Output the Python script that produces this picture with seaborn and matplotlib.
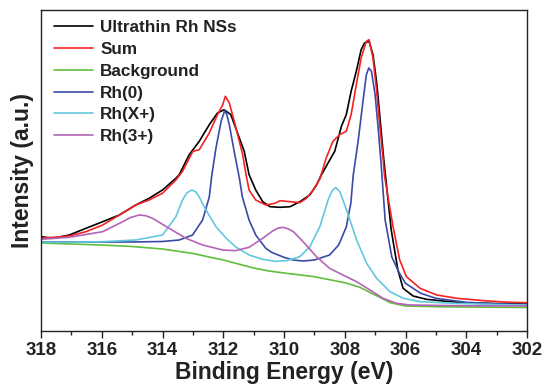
import matplotlib
matplotlib.use("Agg")
import matplotlib.pyplot as plt
import seaborn as sns
import pandas as pd

# ---- data (binding energy in eV, intensity in arbitrary units) ----
bg_x = [318, 317, 316, 315, 314, 313, 312, 311, 310.5, 310, 309, 308, 307.5, 307,
        306.5, 306, 305, 304, 302]
bg_y = [88, 87, 86, 84.5, 82, 77.5, 71, 63, 60, 58, 54.3, 48.3, 43.7, 36,
        28.3, 25, 24.3, 24, 23.5]

rh0_x = [318, 317, 316, 315, 314, 313.45, 313.01, 312.68, 312.46, 312.38, 312.24, 312.07,
         311.95, 311.88, 311.8, 311.64, 311.47, 311.37, 311.15, 310.93, 310.6, 310.4, 310,
         309.7, 309.37, 309, 308.5, 308.2, 307.95, 307.8, 307.72, 307.56, 307.4, 307.29,
         307.21, 307.12, 307.0, 306.9, 306.8, 306.67, 306.45, 306.2, 306, 305.5, 305, 304,
         303, 302]
rh0_y = [89, 89, 89, 89, 89.5, 91, 96, 111, 134, 155, 183, 209.7,
         220.7, 216, 206.3, 179.7, 153, 134, 111, 96, 82.7, 78.5, 73.7,
         71, 70, 71, 76, 86, 104, 127.7, 156, 189.7, 229.7, 256,
         263, 259.7, 236, 203, 166, 111, 74, 57.7, 47.7, 37.7, 32.7, 28.7,
         27, 26.5]

rhx_x = [318, 317, 316, 314.88, 314, 313.56, 313.34, 313.2, 313.04, 312.9, 312.79, 312.57,
         312.24, 311.9, 311.6, 311.15, 310.7, 310.3, 309.92, 309.48, 309.15, 308.82, 308.55,
         308.42, 308.3, 308.16, 307.94, 307.61, 307.28, 306.95, 306.51, 306.07, 305.52,
         304.42, 303, 302]
rhx_y = [88.7, 88.8, 89.3, 91, 96, 114.3, 131, 138, 141, 139, 134, 121,
         104.3, 92.7, 84.3, 76, 71.7, 69.7, 70.3, 74.3, 84.3, 104.3, 131,
         140, 143.5, 139.3, 121, 91, 67.7, 52.7, 39.3, 32.7, 29.3,
         27.7, 26.5, 26]

rh3_x = [318, 317.07, 315.97, 315.31, 315.05, 314.77, 314.55, 314.33, 313.78, 313.23,
         312.68, 312.02, 311.6, 311.15, 310.7, 310.35, 310.2, 310.04, 309.85, 309.69,
         309.37, 308.93, 308.5, 308.06, 307.61, 307.17, 306.74, 306.3, 305.86, 304, 302]
rh3_y = [91.7, 93.7, 99.3, 109.3, 113.5, 116, 115.3, 112.7, 102.7, 92.7,
         86, 81, 80.3, 83.7, 92.7, 100.5, 102.8, 103.7, 102, 99.3,
         89.3, 74.3, 62.7, 56, 49.3, 41, 32.7, 27.7, 26, 25.2, 25]

sum_x = [318, 317.07, 316.52, 315.97, 315.42, 314.88, 314.44, 314, 313.56, 313.34, 313.0,
         312.79, 312.46, 312.19, 312.02, 311.93, 311.8, 311.58, 311.36, 311.25, 311.15, 310.93,
         310.6, 310.3, 310.13, 309.8, 309.48, 309.26, 309.04, 308.82, 308.61, 308.39, 308.17,
         307.95, 307.79, 307.62, 307.46, 307.29, 307.2, 307.07, 306.96, 306.85, 306.74, 306.69,
         306.41, 306.19, 305.97, 305.52, 304.97, 304.31, 303.43, 302.57, 302]
sum_y = [92.7, 95, 99.3, 106, 116, 126, 131, 137.7, 151, 159.7, 179.7,
         181.3, 198, 216.3, 226, 234.7, 228, 203, 176.3, 156.3, 141, 131,
         126, 127.7, 130.3, 129.3, 128.3, 132.7, 141, 152, 173, 189.7, 196.3,
         199.7, 216.3, 246.3, 273, 289.7, 291.3, 273, 243, 206.3, 173, 154.7,
         104.3, 71, 54.3, 42.7, 36, 32.7, 30.3, 28.7, 28.3]

exp_x = [318, 317.6, 317.07, 316.52, 315.97, 315.42, 314.88, 314.44, 314, 313.56, 313.45,
         313.12, 312.79, 312.46, 312.19, 311.97, 311.75, 311.53, 311.31, 311.15, 310.93, 310.7,
         310.46, 310.13, 309.8, 309.48, 309.15, 308.93, 308.77, 308.55, 308.33, 308.11, 307.95,
         307.79, 307.62, 307.46, 307.35, 307.2, 307.07, 306.94, 306.83, 306.72, 306.47, 306.25,
         306.08, 305.75, 305.31, 304.76, 304.1, 303, 302]
exp_y = [94.3, 92.7, 96, 102.7, 109.3, 116, 126, 132.7, 141, 152.7, 156.3,
         176.3, 189.7, 206.3, 218, 221.3, 216.3, 198, 179.7, 156.3, 141, 129.3,
         124.3, 123.7, 124.3, 129.3, 136, 146, 156, 168, 179.7, 204.7, 216.3,
         239.7, 259.7, 281.3, 288, 289.7, 276.3, 246.3, 209.7, 173, 101, 61,
         42.7, 35, 31.7, 30, 28.3, 27.5, 27]

labels = ["Ultrathin Rh NSs", "Sum", "Background", "Rh(0)", "Rh(X+)", "Rh(3+)"]
colors = ["#000000", "#F42222", "#62BE3C", "#3A4AA6", "#63C8DE", "#B563B5"]
series = [(exp_x, exp_y), (sum_x, sum_y), (bg_x, bg_y), (rh0_x, rh0_y),
          (rhx_x, rhx_y), (rh3_x, rh3_y)]

# ---- style ----
sns.set_theme(style="ticks")
plt.rcParams["font.family"] = ["Liberation Sans", "DejaVu Sans"]
plt.rcParams["font.weight"] = "bold"

fig = plt.figure(figsize=(5.45, 3.89), dpi=100)
ax = fig.add_axes([41 / 545, 1 - 331 / 389, 486 / 545, 321.5 / 389])

for (xs, ys), lab, col in zip(series, labels, colors):
    df = pd.DataFrame({"E": xs, "I": ys})
    sns.lineplot(data=df, x="E", y="I", ax=ax, color=col, lw=1.2,
                 label=lab, estimator=None, sort=True)

ax.set_xlim(318, 302)
ax.set_ylim(0, 321.5)
ax.set_xticks(range(318, 301, -2))
ax.set_xticks(range(317, 302, -2), minor=True)
ax.set_yticks([])
ax.tick_params(axis="x", which="major", direction="out", length=5, width=1.0,
               labelsize=13.5, pad=3, colors="#222222")
ax.tick_params(axis="x", which="minor", direction="out", length=3, width=1.0,
               colors="#222222")
for lab in ax.get_xticklabels():
    lab.set_fontweight("bold")
for sp in ax.spines.values():
    sp.set_linewidth(1.0)
    sp.set_color("#222222")

ax.set_xlabel("Binding Energy (eV)", fontsize=16.5, fontweight="bold",
              color="#222222", labelpad=1)
ax.set_ylabel("Intensity (a.u.)", fontsize=16.5, fontweight="bold",
              color="#222222", labelpad=5)

leg = ax.legend(loc="upper left", bbox_to_anchor=(0.027, 0.967), frameon=False,
                borderaxespad=0, borderpad=0, handlelength=2.3, handletextpad=0.4,
                labelspacing=0.4, prop={"family": "Liberation Sans",
                                        "weight": "bold", "size": 12.3})
for t in leg.get_texts():
    t.set_color("#222222")

fig.savefig("out.png", dpi=100)
